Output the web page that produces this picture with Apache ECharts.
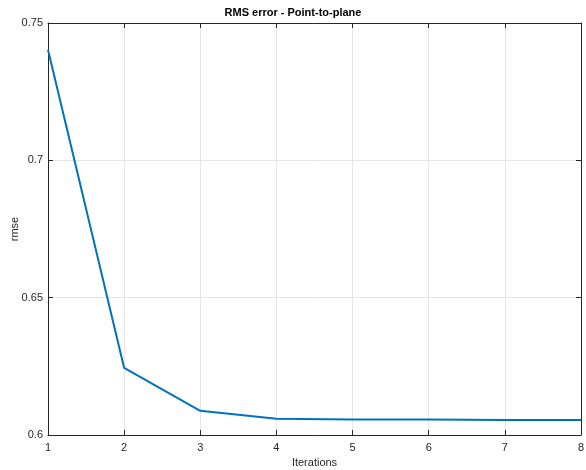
<!DOCTYPE html>
<html>
<head>
<meta charset="utf-8">
<style>
  html, body { margin: 0; padding: 0; background: #ffffff; }
  #chart { width: 586px; height: 470px; }
</style>
<script src="https://cdn.jsdelivr.net/npm/echarts@6/dist/echarts.min.js"></script>
</head>
<body>
<div id="chart"></div>
<script>
// RMS error per ICP iteration, point-to-plane metric
const iterations = [1, 2, 3, 4, 5, 6, 7, 8];
const rmse = [0.7403, 0.6244, 0.6088, 0.6059, 0.6056, 0.6056, 0.6055, 0.6055];
const yTicks = [0.6, 0.65, 0.7, 0.75];

const FONT = '"Liberation Sans", Arial, Helvetica, sans-serif';
const AXIS_COLOR = '#262626';
const GRID_COLOR = '#e5e5e5';

const chart = echarts.init(document.getElementById('chart'), null, { renderer: 'canvas' });

const labelFmt = v => {
  const hit = yTicks.find(t => Math.abs(t - v) < 1e-9);
  return hit !== undefined ? String(hit) : '';
};

const baseLine = { show: true, onZero: false, lineStyle: { color: AXIS_COLOR, width: 1 } };
const inTick = { show: true, inside: true, length: 5, lineStyle: { color: AXIS_COLOR, width: 1 } };

chart.setOption({
  animation: false,
  backgroundColor: '#ffffff',
  title: {
    text: 'RMS error - Point-to-plane',
    left: 'center',
    top: 2,
    textStyle: { fontFamily: FONT, fontSize: 11, fontWeight: 'bold', color: '#000000' }
  },
  grid: { left: 48, right: 5, top: 23, bottom: 35, containLabel: false, outerBoundsMode: 'none' },
  xAxis: [
    {
      type: 'value', min: 1, max: 8, interval: 1, position: 'bottom',
      name: 'Iterations', nameLocation: 'middle', nameGap: 22, nameMoveOverlap: false,
      nameTextStyle: { fontFamily: FONT, fontSize: 11, color: AXIS_COLOR },
      axisLine: baseLine, axisTick: inTick,
      axisLabel: { fontFamily: FONT, fontSize: 11, color: AXIS_COLOR, margin: 7 },
      splitLine: { show: true, lineStyle: { color: GRID_COLOR, width: 1 } }
    },
    {
      type: 'value', min: 1, max: 8, interval: 1, position: 'top',
      axisLine: baseLine, axisTick: inTick,
      axisLabel: { show: false }, splitLine: { show: false }
    }
  ],
  yAxis: [
    {
      type: 'value', min: 0.6, max: 0.75, interval: 0.05, position: 'left',
      name: 'rmse', nameLocation: 'middle', nameGap: 28, nameMoveOverlap: false,
      nameTextStyle: { fontFamily: FONT, fontSize: 11, color: AXIS_COLOR },
      axisLine: baseLine, axisTick: inTick,
      axisLabel: { fontFamily: FONT, fontSize: 11, color: AXIS_COLOR, margin: 5, formatter: labelFmt },
      splitLine: { show: true, lineStyle: { color: GRID_COLOR, width: 1 } }
    },
    {
      type: 'value', min: 0.6, max: 0.75, interval: 0.05, position: 'right',
      axisLine: baseLine, axisTick: inTick,
      axisLabel: { show: false }, splitLine: { show: false }
    }
  ],
  series: [
    {
      type: 'line',
      data: iterations.map((it, i) => [it, rmse[i]]),
      xAxisIndex: 0, yAxisIndex: 0,
      showSymbol: false,
      lineStyle: { color: '#0072BD', width: 2 },
      z: 3
    }
  ]
});
</script>
</body>
</html>
